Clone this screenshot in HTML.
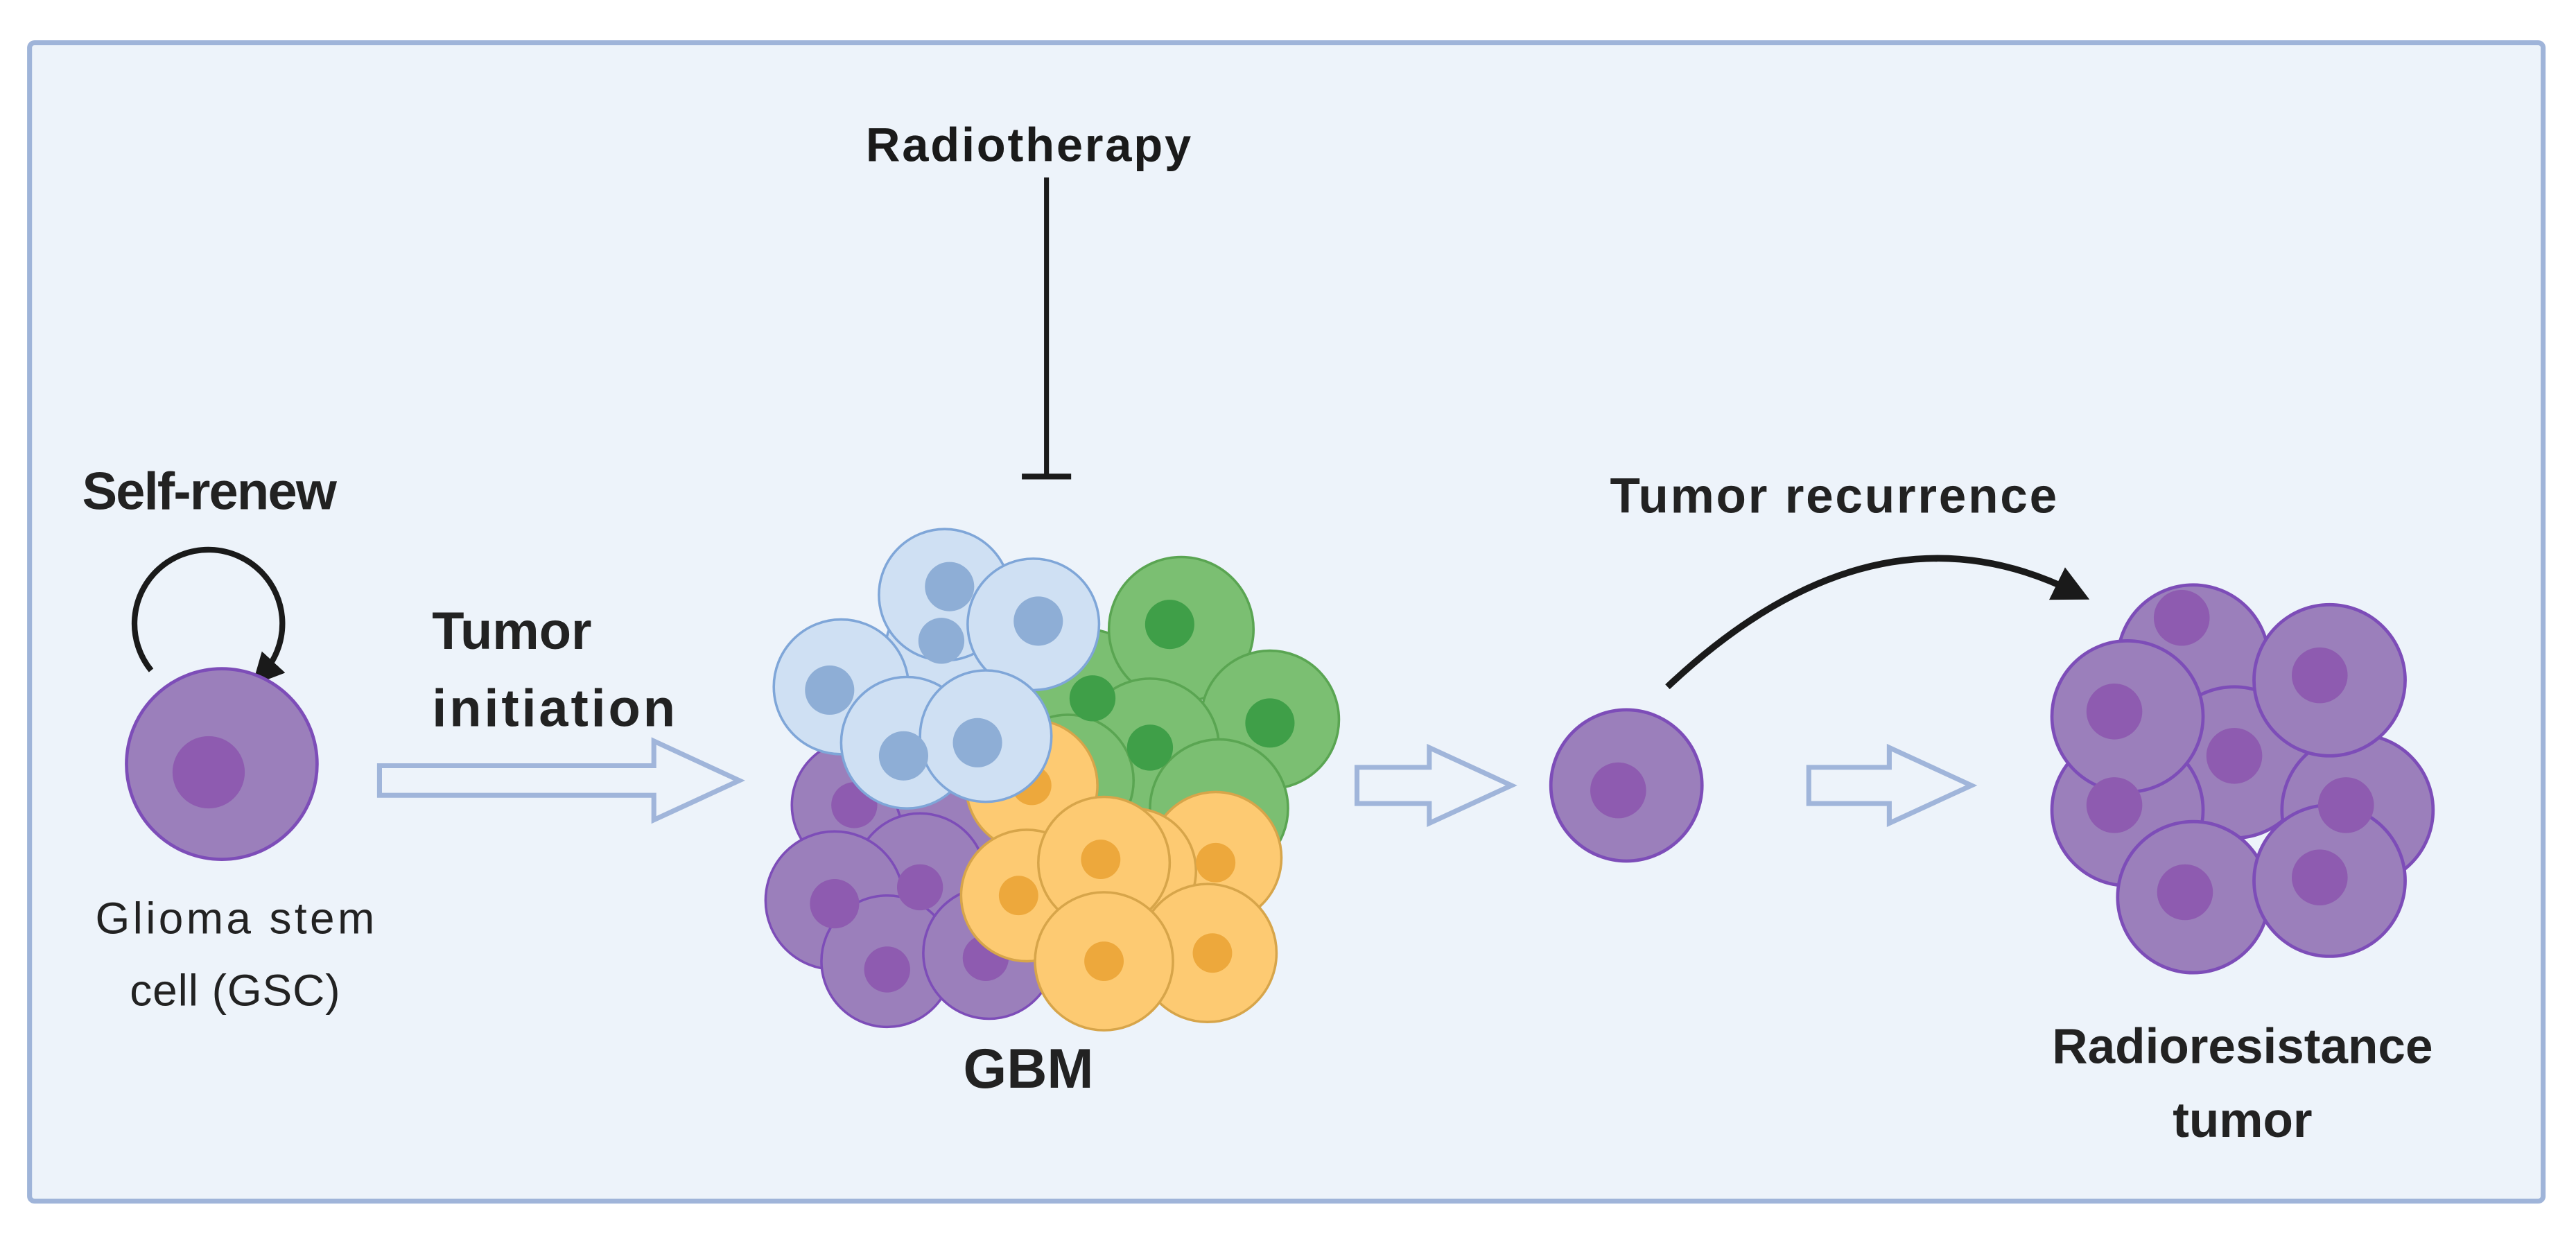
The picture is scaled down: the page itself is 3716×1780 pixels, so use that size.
<!DOCTYPE html>
<html><head><meta charset="utf-8"><style>html,body{margin:0;padding:0;background:#fff}svg{display:block}</style></head>
<body>
<svg width="3716" height="1780" viewBox="0 0 1568 751" preserveAspectRatio="none" xmlns="http://www.w3.org/2000/svg" font-family="Liberation Sans, sans-serif">
<defs>
<marker id="ah" viewBox="0 0 10 10" refX="5" refY="5" markerWidth="5.5" markerHeight="5.5" orient="auto"><path d="M0,0L10,5L0,10z" fill="#1a1a1a"/></marker>
</defs>
<rect x="18" y="26" width="1530" height="705" rx="3" fill="#edf3fa" stroke="#9fb4d9" stroke-width="3"/>
<text x="626" y="98" font-size="29" font-weight="bold" text-anchor="middle" fill="#1a1a1a" textLength="198">Radiotherapy</text>
<line x1="637" y1="108" x2="637" y2="290" stroke="#1a1a1a" stroke-width="3"/>
<line x1="622" y1="290" x2="652" y2="290" stroke="#1a1a1a" stroke-width="3.5"/>
<text x="50" y="310" font-size="32" font-weight="bold" fill="#222" textLength="155">Self-renew</text>
<path d="M92,408 A45,45 0 1 1 160,410" fill="none" stroke="#1a1a1a" stroke-width="3.5" marker-end="url(#ah)"/>
<circle cx="135" cy="465" r="58" fill="#9b7fbb" stroke="#7d4db8" stroke-width="2"/>
<circle cx="127" cy="470" r="22" fill="#8e5bb0"/>
<text x="143" y="568" font-size="27" text-anchor="middle" fill="#222" textLength="170">Glioma stem</text>
<text x="143" y="612" font-size="27" text-anchor="middle" fill="#222" textLength="128">cell (GSC)</text>
<text x="263" y="395" font-size="32" font-weight="bold" fill="#222">Tumor</text>
<text x="263" y="442" font-size="32" font-weight="bold" fill="#222" textLength="148">initiation</text>
<g fill="#edf3fa" stroke="#a0b5da" stroke-width="3">
<path d="M231,466 H398 V451 L450,475 L398,499 V484 H231 Z"/>
<path d="M826,467 H870 V455 L920,478 L870,501 V489 H826 Z"/>
<path d="M1101,467 H1150 V455 L1200,478 L1150,501 V489 H1101 Z"/>
</g>
<g stroke-width="1.5">
<g fill="#7bbf72" stroke="#5aa552">
<circle cx="661" cy="425" r="42"/><circle cx="719" cy="383" r="44"/><circle cx="773" cy="438" r="42"/>
<circle cx="700" cy="455" r="42"/><circle cx="650" cy="475" r="40"/><circle cx="742" cy="492" r="42"/>
</g>
<g fill="#3f9f48"><circle cx="665" cy="425" r="14"/><circle cx="712" cy="380" r="15"/><circle cx="773" cy="440" r="15"/><circle cx="700" cy="455" r="14"/></g>
<g fill="#9b7fbb" stroke="#7d4db8">
<circle cx="522" cy="490" r="40"/><circle cx="585" cy="482" r="40"/><circle cx="560" cy="535" r="40"/>
<circle cx="508" cy="548" r="42"/><circle cx="540" cy="585" r="40"/><circle cx="602" cy="580" r="40"/>
</g>
<g fill="#8e5bb0"><circle cx="508" cy="550" r="15"/><circle cx="560" cy="540" r="14"/><circle cx="600" cy="583" r="14"/><circle cx="540" cy="590" r="14"/><circle cx="520" cy="490" r="14"/></g>
<g fill="#fdca72" stroke="#d7a54a">
<circle cx="628" cy="478" r="40"/><circle cx="740" cy="522" r="40"/><circle cx="625" cy="545" r="40"/>
<circle cx="690" cy="530" r="38"/><circle cx="672" cy="525" r="40"/><circle cx="735" cy="580" r="42"/><circle cx="672" cy="585" r="42"/>
</g>
<g fill="#eda83c"><circle cx="628" cy="478" r="12"/><circle cx="740" cy="525" r="12"/><circle cx="620" cy="545" r="12"/><circle cx="670" cy="523" r="12"/><circle cx="738" cy="580" r="12"/><circle cx="672" cy="585" r="12"/></g>
<g fill="#cfe0f3" stroke="#7fa6d8">
<circle cx="573" cy="395" r="34"/><circle cx="575" cy="362" r="40"/><circle cx="512" cy="418" r="41"/><circle cx="629" cy="380" r="40"/>
<circle cx="552" cy="452" r="40"/><circle cx="600" cy="448" r="40"/>
</g>
<g fill="#8eaed6"><circle cx="573" cy="390" r="14"/><circle cx="578" cy="357" r="15"/><circle cx="505" cy="420" r="15"/><circle cx="632" cy="378" r="15"/><circle cx="550" cy="460" r="15"/><circle cx="595" cy="452" r="15"/></g>
</g>
<text x="626" y="662" font-size="34" font-weight="bold" text-anchor="middle" fill="#222">GBM</text>
<circle cx="990" cy="478" r="46" fill="#9b7fbb" stroke="#7d4db8" stroke-width="2"/>
<circle cx="985" cy="481" r="17" fill="#8e5bb0"/>
<path d="M1015,418 Q1140,300 1262,360" fill="none" stroke="#1a1a1a" stroke-width="4" marker-end="url(#ah)"/>
<text x="980" y="312" font-size="30" font-weight="bold" fill="#222" textLength="272">Tumor recurrence</text>
<g fill="#9b7fbb" stroke="#7d4db8" stroke-width="2">
<circle cx="1335" cy="402" r="46"/><circle cx="1360" cy="464" r="46"/><circle cx="1435" cy="493" r="46"/>
<circle cx="1295" cy="493" r="46"/><circle cx="1418" cy="414" r="46"/><circle cx="1295" cy="436" r="46"/>
<circle cx="1335" cy="546" r="46"/><circle cx="1418" cy="536" r="46"/>
</g>
<g fill="#8e5bb0">
<circle cx="1328" cy="376" r="17"/><circle cx="1360" cy="460" r="17"/><circle cx="1428" cy="490" r="17"/><circle cx="1287" cy="490" r="17"/>
<circle cx="1412" cy="411" r="17"/><circle cx="1287" cy="433" r="17"/><circle cx="1330" cy="543" r="17"/><circle cx="1412" cy="534" r="17"/>
</g>
<text x="1365" y="647" font-size="30" font-weight="bold" text-anchor="middle" fill="#222">Radioresistance</text>
<text x="1365" y="692" font-size="30" font-weight="bold" text-anchor="middle" fill="#222">tumor</text>
</svg>
</body></html>
